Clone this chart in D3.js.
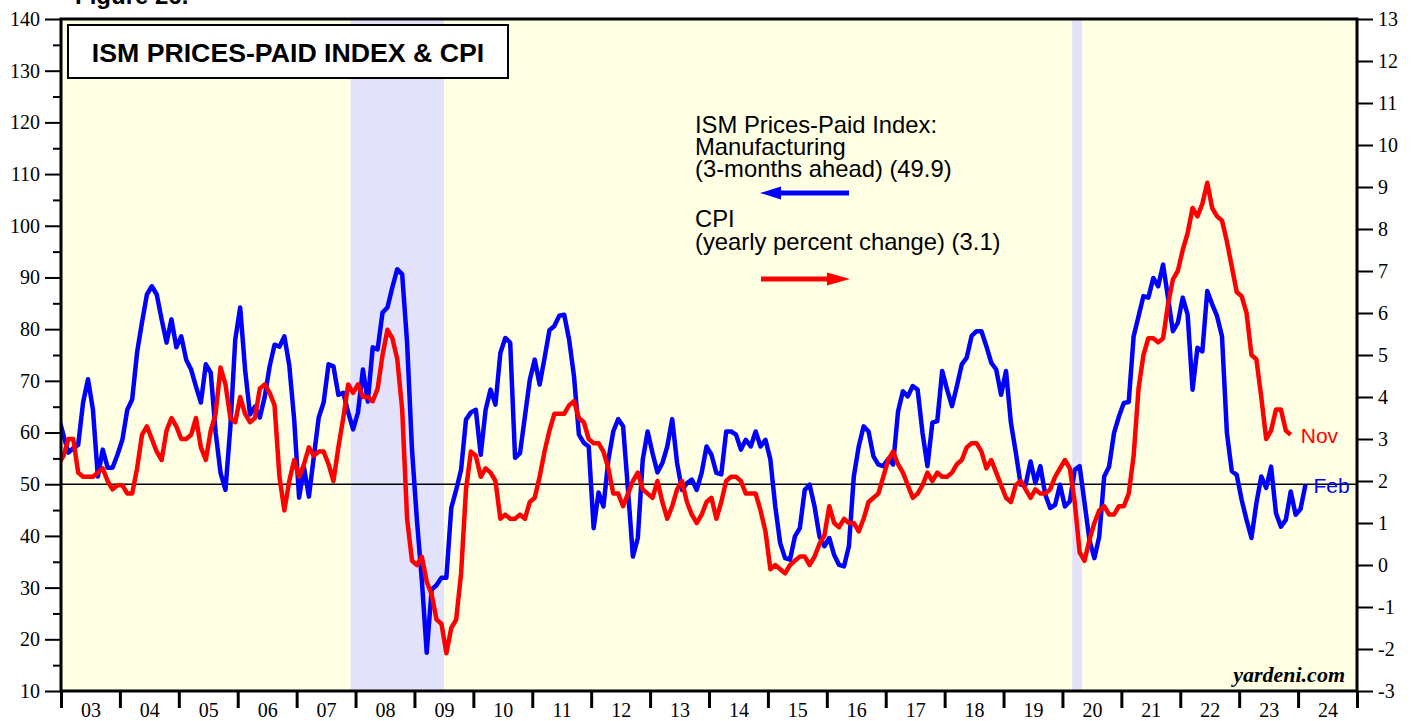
<!DOCTYPE html>
<html>
<head>
<meta charset="utf-8">
<script src="https://cdn.jsdelivr.net/npm/d3@7"></script>
<style>
  body { margin: 0; background: #fff; }
  svg { display: block; }
</style>
</head>
<body>
<div id="chart"></div>
<script>
// ISM prices-paid index, manufacturing, plotted 3 months ahead (monthly, Dec 2002 .. Feb 2024)
const ism = [
  63,
  59.5, 56.1, 57, 57.6, 65.8, 70.3, 64.5, 51.5, 56.7, 53.2, 53.2, 55.7,   // 2003
  58.6, 64.4, 66.4, 75.5, 81.3, 86.7, 88.3, 86.7, 81.9, 77.4, 81.9, 76.5, // 2004
  78.6, 74.1, 72.2, 68.9, 65.8, 73.2, 71.6, 60, 52.2, 48.9, 61.1, 78,     // 2005
  84.2, 72.2, 63.5, 65, 62.9, 66.9, 72.8, 77, 76.6, 78.6, 73, 62.5,       // 2006
  47.4, 53.2, 47.6, 55.3, 62.9, 65.8, 73.2, 72.8, 67.3, 67.7, 63.9, 60.6, // 2007
  63.9, 72.2, 66, 76.5, 76.1, 83.2, 84.2, 88.1, 91.6, 90.6, 77.4, 56.7,   // 2008
  43.1, 31.5, 17.4, 29.6, 30.5, 31.9, 31.9, 45.4, 48.9, 52.8, 62.5, 63.9, // 2009
  64.4, 55.7, 64.4, 68.3, 65.4, 75.4, 78.3, 77.4, 55.1, 56, 63.1, 70.2,   // 2010
  74.1, 69.3, 74.4, 79.8, 80.6, 82.6, 82.8, 78, 70.9, 59.6, 58, 57.3,     // 2011
  41.5, 48.4, 45.7, 54.7, 60.2, 62.6, 61.2, 48.9, 36, 39.6, 54.7, 60.2,   // 2012
  56, 52.3, 54.1, 57.3, 62.6, 54.1, 48.9, 50.2, 50.9, 48.9, 52.2, 57.3,   // 2013
  55.7, 52.2, 51.9, 60.2, 60.2, 59.6, 56.7, 58.6, 57.3, 60.2, 57.3, 58.6, // 2014
  54.8, 45.7, 38.6, 35.7, 35.4, 39.9, 41.5, 48.9, 49.9, 45.7, 39.9, 38,   // 2015
  39.6, 36.3, 34.4, 34.1, 38, 51.5, 57.3, 61.2, 60.2, 55.4, 53.8, 53.5,   // 2016
  54.9, 53.8, 64, 68, 67, 69, 68.3, 59.9, 53.5, 61.9, 62.2, 71.9,         // 2017
  68.3, 65.1, 69, 73.2, 74.5, 78.7, 79.6, 79.6, 76.7, 73.5, 72.2, 67.3,   // 2018
  71.9, 61.9, 56.1, 49.9, 49.9, 54.4, 50.2, 53.5, 48, 45.4, 46, 49.9,     // 2019
  45.7, 46.7, 52.8, 53.5, 46.4, 39.2, 35.7, 39.9, 51.5, 53.4, 59.9, 63.1, // 2020
  65.7, 65.9, 78.6, 82.5, 86.4, 86.1, 89.9, 88.3, 92.5, 86.1, 79.6, 81.2, // 2021
  86.1, 82.8, 68.3, 76.4, 75.7, 87.4, 84.8, 82.5, 78.6, 59.9, 52.5, 51.8, // 2022
  47, 43.1, 39.6, 46.3, 51.5, 49.3, 53.4, 44.4, 41.8, 43.1, 48.6, 44.1,   // 2023
  45.2, 49.9                                                              // 2024
]

// CPI, yearly percent change (monthly, Dec 2002 .. Nov 2023)
const cpi = [
  2.4,
  2.6, 3.0, 3.0, 2.2, 2.1, 2.1, 2.1, 2.2, 2.3, 2.0, 1.8, 1.9,
  1.9, 1.7, 1.7, 2.3, 3.1, 3.3, 3.0, 2.7, 2.5, 3.2, 3.5, 3.3,
  3.0, 3.0, 3.1, 3.5, 2.8, 2.5, 3.2, 3.6, 4.7, 4.3, 3.5, 3.4,
  4.0, 3.6, 3.4, 3.5, 4.2, 4.3, 4.1, 3.8, 2.1, 1.3, 2.0, 2.5,
  2.1, 2.4, 2.8, 2.6, 2.7, 2.7, 2.4, 2.0, 2.8, 3.5, 4.3, 4.1,
  4.3, 4.0, 4.0, 3.9, 4.2, 5.0, 5.6, 5.4, 4.9, 3.7, 1.1, 0.1,
  0.0, 0.2, -0.4, -0.7, -1.3, -1.4, -2.1, -1.5, -1.3, -0.2, 1.8, 2.7,
  2.6, 2.1, 2.3, 2.2, 2.0, 1.1, 1.2, 1.1, 1.1, 1.2, 1.1, 1.5,
  1.6, 2.1, 2.7, 3.2, 3.6, 3.6, 3.6, 3.8, 3.9, 3.5, 3.4, 3.0,
  2.9, 2.9, 2.7, 2.3, 1.7, 1.7, 1.4, 1.7, 2.0, 2.2, 1.8, 1.7,
  1.6, 2.0, 1.5, 1.1, 1.4, 1.8, 2.0, 1.5, 1.2, 1.0, 1.2, 1.5,
  1.6, 1.1, 1.5, 2.0, 2.1, 2.1, 2.0, 1.7, 1.7, 1.7, 1.3, 0.8,
  -0.1, 0.0, -0.1, -0.2, 0.0, 0.1, 0.2, 0.2, 0.0, 0.2, 0.5, 0.7,
  1.4, 1.0, 0.9, 1.1, 1.0, 1.0, 0.8, 1.1, 1.5, 1.6, 1.7, 2.1,
  2.5, 2.7, 2.4, 2.2, 1.9, 1.6, 1.7, 1.9, 2.2, 2.0, 2.2, 2.1,
  2.1, 2.2, 2.4, 2.5, 2.8, 2.9, 2.9, 2.7, 2.3, 2.5, 2.2, 1.9,
  1.6, 1.5, 1.9, 2.0, 1.8, 1.6, 1.8, 1.7, 1.7, 1.8, 2.1, 2.3,
  2.5, 2.3, 1.5, 0.3, 0.1, 0.6, 1.0, 1.3, 1.4, 1.2, 1.2, 1.4,
  1.4, 1.7, 2.6, 4.2, 5.0, 5.4, 5.4, 5.3, 5.4, 6.2, 6.8, 7.0,
  7.5, 7.9, 8.5, 8.3, 8.6, 9.1, 8.5, 8.3, 8.2, 7.7, 7.1, 6.5,
  6.4, 6.0, 5.0, 4.9, 4.0, 3.0, 3.2, 3.7, 3.7, 3.2, 3.1
]

const yearLabels = ["03","04","05","06","07","08","09","10","11","12","13","14",
                    "15","16","17","18","19","20","21","22","23","24"]
const recessions = [[2007 + 11/12, 2009.5], [2020 + 2/12, 2020 + 4/12]]
const leftTicks = d3.range(10, 141, 10)
const leftMinor = d3.range(15, 140, 10)
const rightTicks = d3.range(-3, 14, 1)

const W = 1416, H = 721
const L = 61, R = 1357, T = 19, B = 691
const serif = "'Liberation Serif', 'Times New Roman', serif"
const sans = "'Liberation Sans', Arial, sans-serif"

const svg = d3.select("#chart").append("svg")
    .attr("width", W).attr("height", H)

const x = d3.scaleLinear().domain([2003, 2025]).range([L, R])
const yL = d3.scaleLinear().domain([10, 140]).range([B, T])
const yR = d3.scaleLinear().domain([-3, 13]).range([B, T])

// month index -> decimal year at the middle of the month (index 0 = Dec 2002)
const monthPos = i => 2002 + (11 + i + 0.5) / 12

svg.append("clipPath").attr("id", "plotclip")
  .append("rect").attr("x", L).attr("y", T).attr("width", R - L).attr("height", B - T)

svg.append("rect")
    .attr("x", L).attr("y", T).attr("width", R - L).attr("height", B - T)
    .attr("fill", "#ffffe4")

svg.selectAll("rect.rec").data(recessions).join("rect")
    .attr("class", "rec")
    .attr("x", d => x(d[0])).attr("width", d => x(d[1]) - x(d[0]))
    .attr("y", T).attr("height", B - T)
    .attr("fill", "#e2e2fa")

svg.append("line")
    .attr("x1", L).attr("x2", R).attr("y1", yL(50)).attr("y2", yL(50))
    .attr("stroke", "#000").attr("stroke-width", 1.3)

const plot = svg.append("g").attr("clip-path", "url(#plotclip)")

const lineL = d3.line().x((d, i) => x(monthPos(i))).y(d => yL(d))
const lineR = d3.line().x((d, i) => x(monthPos(i))).y(d => yR(d))

plot.append("path").attr("d", lineL(ism))
    .attr("fill", "none").attr("stroke", "#0000ff").attr("stroke-width", 4.5)
    .attr("stroke-linejoin", "round")
plot.append("path").attr("d", lineR(cpi))
    .attr("fill", "none").attr("stroke", "#ff0000").attr("stroke-width", 4.5)
    .attr("stroke-linejoin", "round")

// axes
function styleAxis(g, size) {
  g.select(".domain").remove()
  g.selectAll(".tick line").attr("stroke", "#000").attr("stroke-width", 2)
  g.selectAll("text").attr("font-family", serif).attr("font-size", size).attr("fill", "#000")
}

svg.append("g").attr("transform", `translate(${L},0)`)
    .call(d3.axisLeft(yL).tickValues(leftMinor).tickSize(8).tickFormat(""))
    .call(g => styleAxis(g, 20))
svg.append("g").attr("transform", `translate(${L},0)`)
    .call(d3.axisLeft(yL).tickValues(leftTicks).tickSize(16).tickPadding(5))
    .call(g => styleAxis(g, 20))

svg.append("g").attr("transform", `translate(${R},0)`)
    .call(d3.axisRight(yR).tickValues(rightTicks).tickSize(16).tickPadding(5).tickFormat(d => String(d)))
    .call(g => styleAxis(g, 20))

svg.append("g").attr("transform", `translate(0,${B})`)
    .call(d3.axisBottom(x).tickValues(d3.range(2003, 2026)).tickSize(17).tickFormat(""))
    .call(g => styleAxis(g, 20))
    .call(g => g.selectAll(".tick line").attr("stroke-width", 3))
svg.append("g").attr("transform", `translate(0,${B})`)
    .call(d3.axisBottom(x).tickValues(d3.range(2003.5, 2025, 1)).tickSize(0).tickPadding(12)
      .tickFormat((d, i) => yearLabels[i]))
    .call(g => styleAxis(g, 20))

svg.append("rect")
    .attr("x", L).attr("y", T).attr("width", R - L).attr("height", B - T)
    .attr("fill", "none").attr("stroke", "#000").attr("stroke-width", 3)

// title
svg.append("text").attr("x", 75).attr("y", 4)
    .attr("font-family", sans).attr("font-weight", "bold").attr("font-size", 24)
    .text("Figure 26.")

svg.append("rect").attr("x", 68).attr("y", 25).attr("width", 440).attr("height", 53)
    .attr("fill", "#fff").attr("stroke", "#000").attr("stroke-width", 2)
svg.append("text").attr("x", 288).attr("y", 62).attr("text-anchor", "middle")
    .attr("font-family", sans).attr("font-weight", "bold").attr("font-size", 26.7)
    .text("ISM PRICES-PAID INDEX & CPI")

// legend
const legendLines = [
  {text: "ISM Prices-Paid Index:", y: 133},
  {text: "Manufacturing", y: 155},
  {text: "(3-months ahead) (49.9)", y: 177},
  {text: "CPI", y: 227},
  {text: "(yearly percent change) (3.1)", y: 250}
]
svg.selectAll("text.leg").data(legendLines).join("text")
    .attr("class", "leg")
    .attr("x", 695).attr("y", d => d.y)
    .attr("font-family", sans).attr("font-size", 23.8).attr("fill", "#000")
    .text(d => d.text)

svg.append("line").attr("x1", 849).attr("x2", 775).attr("y1", 193).attr("y2", 193)
    .attr("stroke", "#0000ff").attr("stroke-width", 5)
svg.append("path").attr("d", "M760,193 L781,186.5 L781,199.5 Z").attr("fill", "#0000ff")

svg.append("line").attr("x1", 761).attr("x2", 835).attr("y1", 279).attr("y2", 279)
    .attr("stroke", "#ff0000").attr("stroke-width", 5)
svg.append("path").attr("d", "M850,279 L827,272.5 L827,285.5 Z").attr("fill", "#ff0000")

// end labels
svg.append("text").attr("x", x(monthPos(cpi.length - 1)) + 10).attr("y", yR(cpi[cpi.length - 1]) + 8)
    .attr("font-family", sans).attr("font-size", 21).attr("fill", "#ff0000").text("Nov")
svg.append("text").attr("x", x(monthPos(ism.length - 1)) + 8).attr("y", yL(ism[ism.length - 1]) + 8)
    .attr("font-family", sans).attr("font-size", 21).attr("fill", "#0000ff").text("Feb")

svg.append("text").attr("x", 1345).attr("y", 682).attr("text-anchor", "end")
    .attr("font-family", serif).attr("font-weight", "bold").attr("font-style", "italic")
    .attr("font-size", 22).text("yardeni.com")
</script>
</body>
</html>
